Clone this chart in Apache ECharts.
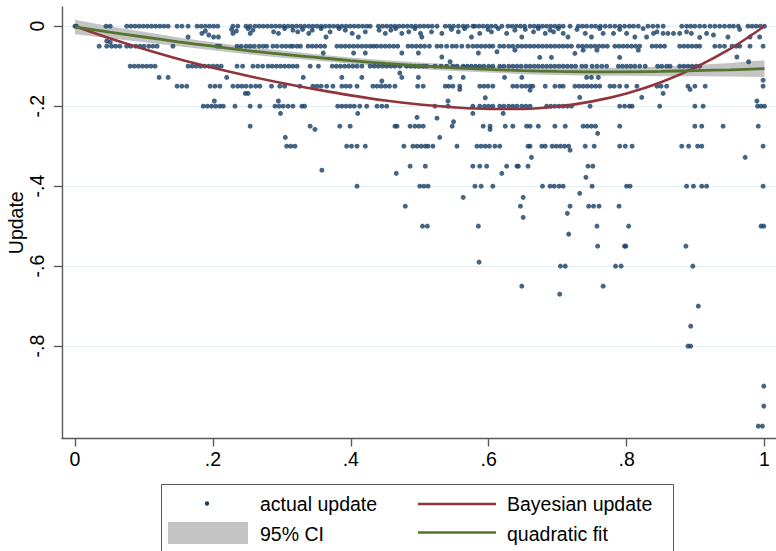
<!DOCTYPE html>
<html>
<head>
<meta charset="utf-8">
<script src="https://cdn.jsdelivr.net/npm/echarts@6/dist/echarts.min.js"></script>
<style>html,body{margin:0;padding:0;background:#fff;}#c{width:776px;height:551px;}</style>
</head>
<body>
<div id="c"></div>
<script>
// ---- tick labels ----
const xTickVals = [0, 0.2, 0.4, 0.6, 0.8, 1];
const xTickLabels = ['0', '.2', '.4', '.6', '.8', '1'];
const yTickVals = [0, -0.2, -0.4, -0.6, -0.8];
const yTickLabels = ['0', '-.2', '-.4', '-.6', '-.8'];

// ---- scatter: x positions of points on the regular rows ----
const rowY = [0, -0.05, -0.1, -0.15, -0.2, -0.25, -0.3, -0.35, -0.4];
const row0X = [0, 0.002, 0.045, 0.051, 0.075, 0.081, 0.087, 0.093, 0.099, 0.105, 0.111, 0.117, 0.123, 0.129, 0.135, 0.148, 0.155, 0.164, 0.177, 0.183, 0.189, 0.195, 0.201, 0.207, 0.229, 0.236, 0.248, 0.254, 0.261, 0.267, 0.273,
  0.279, 0.285, 0.291, 0.297, 0.303, 0.309, 0.315, 0.321, 0.327, 0.333, 0.339, 0.345, 0.351, 0.357, 0.363, 0.369, 0.375, 0.381, 0.387, 0.393, 0.399, 0.405, 0.411, 0.417, 0.423, 0.428,
  0.44, 0.446, 0.452, 0.458, 0.464, 0.47, 0.476, 0.482, 0.488, 0.494, 0.5, 0.506, 0.512, 0.518, 0.525,
  0.537, 0.543, 0.549, 0.556, 0.563, 0.569, 0.577, 0.58, 0.586, 0.592, 0.598, 0.604, 0.61, 0.619, 0.628, 0.634, 0.64, 0.646, 0.652, 0.66,
  0.666, 0.672, 0.678, 0.684, 0.69, 0.696, 0.702, 0.708, 0.718, 0.73, 0.736, 0.742, 0.749, 0.755, 0.762, 0.769, 0.776, 0.783, 0.79, 0.797, 0.804, 0.81, 0.817,
  0.831, 0.838, 0.845, 0.853, 0.88, 0.887, 0.893, 0.899, 0.906, 0.913, 0.921, 0.928, 0.935, 0.942, 0.949, 0.955, 0.962, 0.976, 0.982, 0.988, 0.994, 1.0];
const row05X = [0.035, 0.046, 0.053, 0.059, 0.065, 0.075, 0.081, 0.088, 0.094, 0.1, 0.107, 0.113, 0.119, 0.142, 0.206, 0.21, 0.235, 0.241, 0.248, 0.254, 0.26, 0.267, 0.273, 0.278,
  0.287, 0.293, 0.3, 0.306, 0.312, 0.316, 0.322, 0.327, 0.338, 0.344, 0.35, 0.356, 0.362, 0.38, 0.386, 0.392, 0.398, 0.404, 0.41, 0.416, 0.422, 0.428, 0.433,
  0.438, 0.444, 0.45, 0.456, 0.462, 0.468, 0.483, 0.489, 0.495, 0.501, 0.507, 0.514, 0.525, 0.531, 0.539, 0.547, 0.553, 0.561, 0.57, 0.577, 0.583, 0.589, 0.595, 0.601, 0.606,
  0.616, 0.622, 0.629, 0.635, 0.642, 0.648, 0.654, 0.66, 0.666, 0.672, 0.678, 0.684, 0.69, 0.696, 0.702, 0.708, 0.714, 0.72, 0.73, 0.736, 0.742, 0.748, 0.754, 0.76, 0.766, 0.772,
  0.783, 0.789, 0.795, 0.801, 0.807, 0.813, 0.819, 0.837, 0.843, 0.849, 0.855, 0.877, 0.883, 0.889, 0.895, 0.901, 0.906, 0.928, 0.935, 0.942, 0.953, 0.959, 0.964, 0.979, 0.998];
const row10X = [0.08, 0.086, 0.092, 0.098, 0.104, 0.11, 0.116, 0.164, 0.17, 0.176, 0.182, 0.188, 0.194, 0.2, 0.206, 0.212, 0.235, 0.243, 0.258, 0.265, 0.272, 0.28, 0.286, 0.292, 0.298, 0.304, 0.31, 0.316, 0.322,
  0.341, 0.353, 0.373, 0.379, 0.385, 0.391, 0.397, 0.403, 0.409, 0.416, 0.428, 0.434, 0.44, 0.446, 0.452, 0.458, 0.464, 0.471, 0.481, 0.487, 0.493, 0.499, 0.505, 0.51, 0.522, 0.531, 0.539,
  0.548, 0.554, 0.563, 0.569, 0.575, 0.581, 0.587, 0.593, 0.6, 0.606, 0.616, 0.622, 0.629, 0.635, 0.641, 0.647, 0.654, 0.66, 0.666, 0.672, 0.678, 0.684, 0.69, 0.696, 0.702, 0.708, 0.714, 0.72, 0.726,
  0.735, 0.741, 0.75, 0.757, 0.764, 0.771, 0.788, 0.794, 0.8, 0.806, 0.812, 0.819, 0.827, 0.845, 0.851, 0.858, 0.863, 0.877, 0.883, 0.889, 0.895, 0.901, 0.906];
const row15X = [0.148, 0.155, 0.162, 0.196, 0.203, 0.21, 0.229, 0.236, 0.242, 0.248, 0.255, 0.262, 0.268, 0.285, 0.297, 0.304, 0.326, 0.345, 0.351, 0.357, 0.365, 0.374, 0.387, 0.393, 0.399, 0.409,
  0.432, 0.438, 0.444, 0.45, 0.456, 0.464, 0.497, 0.505, 0.537, 0.542, 0.548, 0.558, 0.587, 0.593, 0.599, 0.606, 0.635, 0.641, 0.648, 0.654, 0.66, 0.664, 0.682, 0.696, 0.703, 0.708,
  0.725, 0.731, 0.737, 0.743, 0.749, 0.755, 0.761, 0.776, 0.782, 0.79, 0.8, 0.815, 0.844, 0.85, 0.858, 0.889, 0.899, 0.914, 0.998];
const row20X = [0.186, 0.192, 0.198, 0.204, 0.21, 0.215, 0.232, 0.254, 0.268, 0.29, 0.296, 0.302, 0.309, 0.316, 0.329, 0.333, 0.381, 0.387, 0.393, 0.399, 0.405, 0.413, 0.423, 0.438, 0.445, 0.452,
  0.522, 0.541, 0.577, 0.587, 0.594, 0.6, 0.606, 0.616, 0.622, 0.629, 0.635, 0.641, 0.648, 0.654, 0.66, 0.684, 0.69, 0.696, 0.702, 0.708, 0.714, 0.72, 0.747,
  0.79, 0.797, 0.804, 0.808, 0.848, 0.899, 0.911, 0.99, 0.995, 1.0];
const row25X = [0.254, 0.341, 0.384, 0.399, 0.464, 0.467, 0.486, 0.493, 0.499, 0.505, 0.547, 0.592, 0.602, 0.624, 0.635, 0.655, 0.66, 0.672, 0.696, 0.711, 0.737, 0.743, 0.749, 0.755, 0.79, 0.899, 0.909, 0.94, 0.991];
const row30X = [0.307, 0.313, 0.319, 0.394, 0.401, 0.409, 0.421, 0.477, 0.49, 0.496, 0.502, 0.508, 0.512, 0.519, 0.554, 0.583, 0.589, 0.595, 0.601, 0.609, 0.616, 0.657, 0.66, 0.677, 0.682,
  0.692, 0.698, 0.704, 0.71, 0.716, 0.74, 0.753, 0.79, 0.798, 0.808, 0.88, 0.89, 0.903, 0.909, 0.998];
const row35X = [0.486, 0.508, 0.577, 0.587, 0.597, 0.626, 0.641, 0.643, 0.657, 0.744, 0.751];
const row40X = [0.409, 0.5, 0.506, 0.512, 0.58, 0.589, 0.606, 0.678, 0.689, 0.695, 0.702, 0.708, 0.75, 0.8, 0.805, 0.887, 0.897, 0.909, 0.916, 0.998];
const rowXs = [row0X, row05X, row10X, row15X, row20X, row25X, row30X, row35X, row40X];

// ---- scatter: other points [x, y] ----
const nearTopPts = [[0.046,-0.037],[0.051,-0.04],[0.164,-0.027],[0.184,-0.018],[0.189,-0.012],[0.194,-0.022],[0.201,-0.027],[0.208,-0.027],[0.227,-0.008],[0.229,-0.018],[0.234,-0.012],[0.251,-0.006],[0.254,-0.018],[0.258,-0.01],
  [0.288,-0.014],[0.295,-0.018],[0.304,-0.006],[0.316,-0.01],[0.323,-0.014],[0.33,-0.008],[0.339,-0.018],[0.344,-0.01],[0.357,-0.006],[0.364,-0.027],[0.37,-0.014],[0.383,-0.006],[0.392,-0.01],[0.402,-0.018],[0.411,-0.027],[0.421,-0.014],
  [0.441,-0.01],[0.45,-0.018],[0.458,-0.01],[0.465,-0.006],[0.474,-0.018],[0.484,-0.014],[0.493,-0.006],[0.501,-0.018],[0.503,-0.027],[0.517,-0.014],[0.532,-0.018],[0.546,-0.008],[0.556,-0.014],[0.565,-0.006],[0.575,-0.027],
  [0.587,-0.018],[0.599,-0.008],[0.604,-0.014],[0.614,-0.006],[0.626,-0.018],[0.638,-0.01],[0.648,-0.027],[0.653,-0.008],[0.665,-0.014],[0.672,-0.006],[0.682,-0.018],[0.689,-0.01],[0.694,-0.014],[0.701,-0.006],[0.708,-0.018],
  [0.715,-0.027],[0.728,-0.008],[0.74,-0.018],[0.749,-0.027],[0.761,-0.006],[0.766,-0.018],[0.781,-0.018],[0.79,-0.008],[0.8,-0.018],[0.812,-0.027],[0.824,-0.006],[0.829,-0.027],[0.839,-0.018],[0.844,-0.014],[0.853,-0.018],
  [0.86,-0.018],[0.868,-0.018],[0.877,-0.018],[0.887,-0.014],[0.894,-0.018],[0.906,-0.028],[0.916,-0.018],[0.926,-0.022],[0.947,-0.027],[0.964,-0.008],[0.979,-0.027],[0.993,-0.027]];
const midPts = [[0.36,-0.067],[0.404,-0.067],[0.421,-0.067],[0.474,-0.067],[0.498,-0.067],[0.532,-0.077],[0.544,-0.089],[0.585,-0.067],[0.612,-0.064],[0.638,-0.06],
  [0.674,-0.078],[0.691,-0.078],[0.725,-0.068],[0.737,-0.06],[0.757,-0.06],[0.79,-0.078],[0.817,-0.06],[0.96,-0.077],[0.977,-0.089],
  [0.122,-0.128],[0.135,-0.128],[0.22,-0.128],[0.331,-0.128],[0.387,-0.128],[0.416,-0.128],[0.445,-0.137],[0.471,-0.117],[0.474,-0.128],[0.498,-0.128],[0.544,-0.128],[0.563,-0.128],[0.623,-0.128],
  [0.648,-0.128],[0.742,-0.128],[0.749,-0.128],[0.759,-0.128],[0.998,-0.135],
  [0.247,-0.168],[0.251,-0.168],[0.558,-0.158],[0.66,-0.16],[0.853,-0.168],[0.892,-0.158],
  [0.202,-0.187],[0.295,-0.187],[0.541,-0.187],[0.595,-0.179],[0.732,-0.178],[0.822,-0.178],[0.989,-0.187]];
const lowPts = [[0.298,-0.218],[0.41,-0.218],[0.496,-0.228],[0.525,-0.23],[0.577,-0.218],[0.621,-0.218],
  [0.348,-0.258],[0.549,-0.239],[0.602,-0.258],[0.758,-0.268],[0.305,-0.278],[0.529,-0.278],
  [0.718,-0.31],[0.662,-0.328],[0.972,-0.328],[0.358,-0.36],[0.466,-0.368],[0.619,-0.368],[0.741,-0.378],
  [0.732,-0.418],[0.563,-0.428],[0.65,-0.428],
  [0.479,-0.45],[0.646,-0.45],[0.718,-0.45],[0.745,-0.45],[0.752,-0.45],[0.76,-0.45],[0.789,-0.45],[0.65,-0.478],[0.714,-0.468],
  [0.504,-0.5],[0.511,-0.5],[0.585,-0.5],[0.757,-0.5],[0.803,-0.5],[0.995,-0.5],[0.999,-0.5],
  [0.716,-0.52],[0.758,-0.55],[0.797,-0.55],[0.799,-0.55],[0.886,-0.55],
  [0.586,-0.59],[0.704,-0.6],[0.711,-0.6],[0.784,-0.6],[0.792,-0.6],[0.896,-0.6],
  [0.648,-0.65],[0.766,-0.65],[0.703,-0.67],[0.904,-0.7],[0.893,-0.75],[0.889,-0.8],[0.893,-0.8],
  [0.999,-0.9],[0.999,-0.95],[0.991,-1.0],[0.997,-1.0]];

// ---- curves ----
const curveX = [0, 0.05, 0.1, 0.15, 0.2, 0.25, 0.3, 0.35, 0.4, 0.45, 0.5, 0.55, 0.6, 0.65, 0.7, 0.75, 0.8, 0.85, 0.9, 0.95, 1.0];
const bayesY = [0, -0.03, -0.057, -0.082, -0.104, -0.124, -0.142, -0.158, -0.173, -0.186, -0.196, -0.203, -0.207, -0.207, -0.201, -0.188, -0.168, -0.14, -0.103, -0.057, 0];
const fitY = [-0.002, -0.015, -0.027, -0.039, -0.05, -0.061, -0.07, -0.078, -0.086, -0.093, -0.099, -0.104, -0.108, -0.111, -0.113, -0.114, -0.114, -0.113, -0.111, -0.109, -0.106];
const ciLow = [-0.02, -0.03, -0.04, -0.05, -0.06, -0.07, -0.079, -0.086, -0.094, -0.101, -0.107, -0.112, -0.116, -0.12, -0.122, -0.124, -0.124, -0.125, -0.125, -0.126, -0.127];
const ciHigh = [0.016, 0, -0.014, -0.028, -0.04, -0.052, -0.061, -0.07, -0.078, -0.085, -0.091, -0.096, -0.1, -0.102, -0.104, -0.104, -0.104, -0.101, -0.097, -0.092, -0.085];

// ---- build data ----
const scatterData = [];
rowXs.forEach((xs, r) => xs.forEach(x => scatterData.push([x, rowY[r]])));
nearTopPts.concat(midPts, lowPts).forEach(p => scatterData.push(p));
const bayesData = curveX.map((x, i) => [x, bayesY[i]]);
const fitData = curveX.map((x, i) => [x, fitY[i]]);
const ciData = curveX.map((x, i) => [x, ciLow[i], ciHigh[i]]);

const FONT = '"Liberation Sans", Arial, Helvetica, sans-serif';
const FS = 19.5;
const AX = '#5a5a5a';
const NAVY = '#173f66', MAROON = '#90353b', GREEN = '#55752f', CIGRAY = '#c4c4c4';

function lab(vals, labels) {
  return v => { const i = vals.findIndex(t => Math.abs(t - v) < 1e-9); return i >= 0 ? labels[i] : ''; };
}

const chart = echarts.init(document.getElementById('c'), null, { renderer: 'svg' });
chart.setOption({
  backgroundColor: '#ffffff',
  animation: false,
  grid: [
    { left: 62, right: 0, top: 7, bottom: 112.5, containLabel: false, outerBoundsMode: 'none' },
    { left: 62, right: 0, top: 26, bottom: 205, containLabel: false, outerBoundsMode: 'none' }
  ],
  xAxis: [
    { gridIndex: 0, type: 'value', min: -0.0189, max: 1.0167,
      axisLine: { show: true, onZero: false, lineStyle: { color: AX, width: 1.4 } },
      axisTick: { show: true, length: 8, customValues: xTickVals, lineStyle: { color: AX, width: 1.4 } },
      axisLabel: { customValues: xTickVals, formatter: lab(xTickVals, xTickLabels), fontSize: FS, fontFamily: FONT, color: '#000', margin: 10 },
      splitLine: { show: false } },
    { gridIndex: 1, type: 'value', min: 0, max: 1, show: false }
  ],
  yAxis: [
    { gridIndex: 0, type: 'value', min: -1.031, max: 0.048,
      name: 'Update', nameLocation: 'middle', nameGap: 36, nameRotate: 90, nameMoveOverlap: false,
      nameTextStyle: { fontSize: FS, fontFamily: FONT, color: '#000' },
      axisLine: { show: true, onZero: false, lineStyle: { color: AX, width: 1.4 } },
      axisTick: { show: true, length: 8, customValues: yTickVals, lineStyle: { color: AX, width: 1.4 } },
      axisLabel: { customValues: yTickVals, formatter: lab(yTickVals, yTickLabels), rotate: 90, fontSize: FS, fontFamily: FONT, color: '#000', margin: 15 },
      splitLine: { show: false } },
    { gridIndex: 1, type: 'value', min: -0.8, max: 0, interval: 0.2,
      axisLine: { show: false }, axisTick: { show: false }, axisLabel: { show: false },
      splitLine: { show: true, lineStyle: { color: '#e4edf0', width: 1.2 } } }
  ],
  series: [
    { name: '95% CI', type: 'custom', xAxisIndex: 0, yAxisIndex: 0, z: 1, data: ciData,
      renderItem: function (params, api) {
        if (params.dataIndex !== 0) return null;
        const pts = [];
        for (let i = 0; i < ciData.length; i++) pts.push(api.coord([ciData[i][0], ciData[i][2]]));
        for (let i = ciData.length - 1; i >= 0; i--) pts.push(api.coord([ciData[i][0], ciData[i][1]]));
        return { type: 'polygon', shape: { points: pts, smooth: 0 }, style: { fill: CIGRAY } };
      } },
    { name: 'actual update', type: 'scatter', xAxisIndex: 0, yAxisIndex: 0, z: 2, data: scatterData,
      symbol: 'circle', symbolSize: 5, itemStyle: { color: NAVY }, clip: false },
    { name: 'Bayesian update', type: 'line', xAxisIndex: 0, yAxisIndex: 0, z: 3, data: bayesData,
      showSymbol: false, smooth: 0.3, clip: false, lineStyle: { color: MAROON, width: 2.6 } },
    { name: 'quadratic fit', type: 'line', xAxisIndex: 0, yAxisIndex: 0, z: 4, data: fitData,
      showSymbol: false, smooth: 0.3, clip: false, lineStyle: { color: GREEN, width: 2.8 } }
  ],
  graphic: [
    { type: 'rect', shape: { x: 161.5, y: 484.5, width: 512, height: 90 }, style: { fill: '#fff', stroke: '#5a5a5a', lineWidth: 1 }, z: 10 },
    { type: 'circle', shape: { cx: 207, cy: 503.5, r: 2.2 }, style: { fill: NAVY }, z: 11 },
    { type: 'text', x: 260, y: 504, style: { text: 'actual update', font: FS + 'px ' + FONT, fill: '#000', verticalAlign: 'middle', align: 'left' }, z: 11 },
    { type: 'rect', shape: { x: 168, y: 522, width: 80, height: 22 }, style: { fill: CIGRAY }, z: 11 },
    { type: 'text', x: 260, y: 533.5, style: { text: '95% CI', font: FS + 'px ' + FONT, fill: '#000', verticalAlign: 'middle', align: 'left' }, z: 11 },
    { type: 'line', shape: { x1: 418, y1: 504, x2: 496, y2: 504 }, style: { stroke: MAROON, lineWidth: 2.6 }, z: 11 },
    { type: 'text', x: 507, y: 504, style: { text: 'Bayesian update', font: FS + 'px ' + FONT, fill: '#000', verticalAlign: 'middle', align: 'left' }, z: 11 },
    { type: 'line', shape: { x1: 418, y1: 532.5, x2: 496, y2: 532.5 }, style: { stroke: GREEN, lineWidth: 2.6 }, z: 11 },
    { type: 'text', x: 507, y: 533.5, style: { text: 'quadratic fit', font: FS + 'px ' + FONT, fill: '#000', verticalAlign: 'middle', align: 'left' }, z: 11 }
  ]
});
</script>
</body>
</html>
